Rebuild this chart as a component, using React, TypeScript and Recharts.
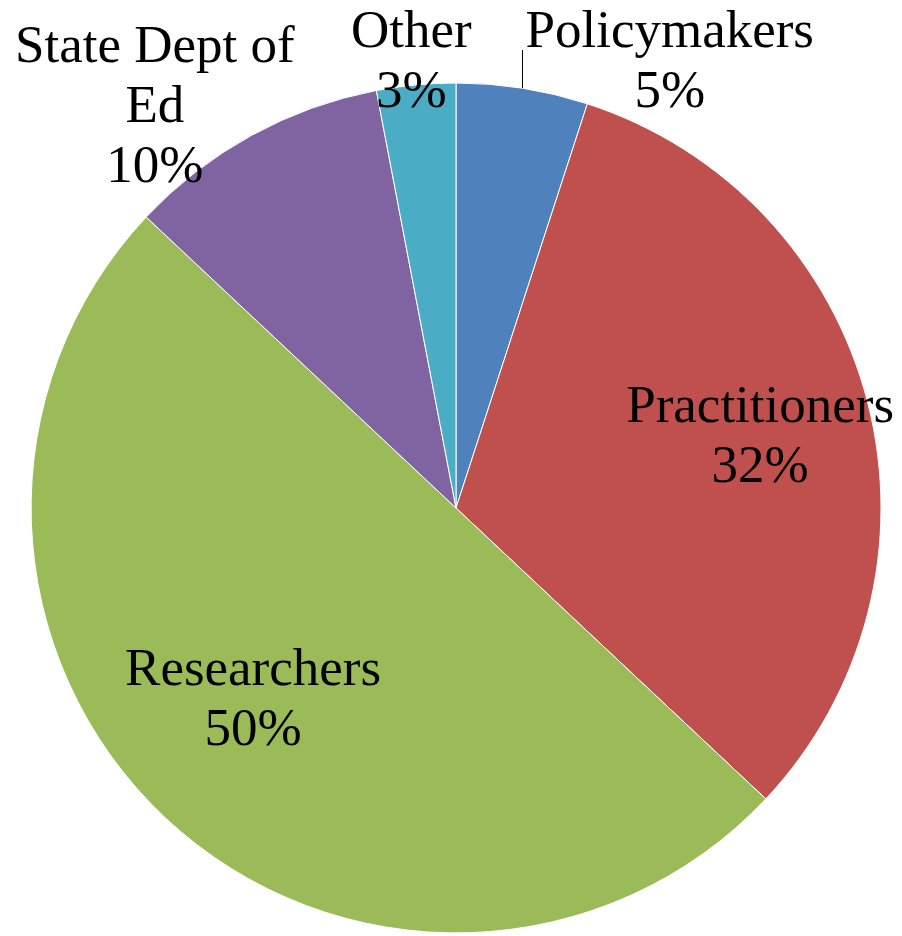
import { PieChart, Pie, Cell } from "recharts";

// Audience breakdown (%), clockwise from 12 o'clock
const categories = ["Policymakers", "Practitioners", "Researchers", "State Dept of Ed", "Other"];
const shares = [5, 32, 50, 10, 3];
const colors = ["#4F81BD", "#C0504D", "#9BBB59", "#8064A2", "#4BACC6"];
// label text as it wraps in the original
const labelText = [["Policymakers"], ["Practitioners"], ["Researchers"], ["State Dept of", "Ed"], ["Other"]];

// where each label block sits: angle clockwise from top (deg), distance as share of radius
const labelPlacement = [
  { angle: 25.5, r: 1.168, leader: true },
  { angle: 76.5, r: 0.736, leader: false },
  { angle: 226.9, r: 0.654, leader: false },
  { angle: -36.75, r: 1.184, leader: false },
  { angle: -5.7, r: 1.06, leader: false },
];

const FONT = "'Liberation Serif', 'Times New Roman', serif";
const FONT_SIZE = 53;
const LINE_H = 60;
const RADIAN = Math.PI / 180;

const data = categories.map((name, i) => ({ name, value: shares[i] }));

function renderLabel(props: any) {
  const { cx, cy, outerRadius, midAngle, index, value } = props;
  const place = labelPlacement[index];
  const a = place.angle * RADIAN;
  const x = cx + outerRadius * place.r * Math.sin(a);
  const y = cy - outerRadius * place.r * Math.cos(a);
  const lines = [...labelText[index], `${value}%`];
  const firstCenter = y - ((lines.length - 1) * LINE_H) / 2;
  const baseShift = FONT_SIZE * 0.33;

  // Excel-style leader: straight up from the slice edge to the label
  let leader = null;
  if (place.leader) {
    const ex = cx + Math.cos(-midAngle * RADIAN) * outerRadius;
    const ey = cy + Math.sin(-midAngle * RADIAN) * outerRadius;
    leader = <line x1={ex} y1={ey} x2={ex} y2={firstCenter + 20} stroke="#000" strokeWidth={1} />;
  }

  return (
    <g key={`lbl-${index}`}>
      {leader}
      <text
        x={x}
        y={firstCenter + baseShift}
        textAnchor="middle"
        fill="#000"
        fontFamily={FONT}
        fontSize={FONT_SIZE}
      >
        {lines.map((line, i) => (
          <tspan key={i} x={x} y={firstCenter + baseShift + i * LINE_H}>
            {line}
          </tspan>
        ))}
      </text>
    </g>
  );
}

export default function App() {
  return (
    <div style={{ position: "absolute", left: 0, top: 0, width: 902, height: 936, background: "#fff" }}>
      <PieChart width={902} height={936} margin={{ top: 0, right: 0, bottom: 0, left: 0 }}>
        <Pie
          data={data}
          dataKey="value"
          nameKey="name"
          cx={456}
          cy={508}
          outerRadius={425}
          startAngle={90}
          endAngle={-270}
          stroke="#fff"
          strokeWidth={1}
          label={renderLabel}
          labelLine={false}
          isAnimationActive={false}
        >
          {data.map((d, i) => (
            <Cell key={d.name} fill={colors[i]} />
          ))}
        </Pie>
      </PieChart>
    </div>
  );
}
